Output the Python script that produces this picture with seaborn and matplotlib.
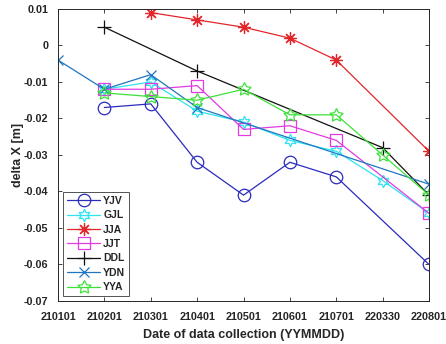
import numpy as np
import pandas as pd
import matplotlib
matplotlib.use("Agg")
import matplotlib.pyplot as plt
import seaborn as sns

dates = ["210101", "210201", "210301", "210401", "210501", "210601", "210701", "220330", "220801"]

yjv = [None, -0.017, -0.016, -0.032, -0.041, -0.032, -0.036, None, -0.060]
gjl = [None, -0.012, -0.010, -0.018, -0.021, -0.026, -0.029, -0.037, -0.046]
jja = [None, None, 0.009, 0.007, 0.005, 0.002, -0.004, None, -0.029]
jjt = [None, -0.012, -0.012, -0.011, -0.023, -0.022, -0.026, None, -0.046]
ddl = [None, 0.005, None, -0.007, None, None, None, -0.028, -0.041]
ydn = [-0.004, -0.012, -0.008, -0.017, None, None, None, None, -0.038]
yya = [None, -0.013, -0.014, -0.015, -0.012, -0.019, -0.019, -0.030, -0.041]

series = [
    ("YJV", yjv, "#2b2bbd", "o", 9),
    ("GJL", gjl, "#2fe3f0", (6, 1, 0), 9),
    ("JJA", jja, "#e3262b", (8, 2, 0), 9),
    ("JJT", jjt, "#e03ce0", "s", 8),
    ("DDL", ddl, "#111111", "+", 10),
    ("YDN", ydn, "#1f77c0", "x", 7),
    ("YYA", yya, "#3ee03a", (5, 1, 0), 10),
]

sns.set_style("ticks")
plt.rcParams["font.family"] = ["Liberation Sans", "DejaVu Sans"]

fig = plt.figure(figsize=(4.46, 3.44), dpi=100)
ax = fig.add_axes([0.130, 0.125, 0.832, 0.849])

for name, vals, color, marker, ms in series:
    df = pd.DataFrame({"x": np.arange(len(dates)), "y": vals}).dropna()
    sns.lineplot(data=df, x="x", y="y", ax=ax, color=color, label=name,
                 marker=marker, markersize=ms, mfc="none", mec=color,
                 mew=0.9, linewidth=0.9, sort=False)

ax.set_xlim(0, len(dates) - 1)
ax.set_ylim(-0.07, 0.01)
ax.set_xticks(np.arange(len(dates)))
ax.set_xticklabels(dates)
yt = np.round(np.arange(-0.07, 0.0101, 0.01), 2)
ax.set_yticks(yt)
ax.set_yticklabels(["0" if v == 0 else f"{v:g}" for v in yt])
ax.tick_params(direction="in", top=True, right=True, length=3, width=0.6,
               labelsize=7.8, colors="#262626")
ax.tick_params(axis="x", pad=8)
ax.tick_params(axis="y", pad=7)
for lab in ax.get_xticklabels() + ax.get_yticklabels():
    lab.set_fontweight("bold")
for sp in ax.spines.values():
    sp.set_visible(True)
    sp.set_color("#262626")
    sp.set_linewidth(0.7)

ax.set_xlabel("Date of data collection (YYMMDD)", fontsize=9, fontweight="bold", labelpad=5)
ax.set_ylabel("delta X [m]", fontsize=9, fontweight="bold", labelpad=0)

leg = ax.legend(loc="lower left", fontsize=7.5, frameon=True, fancybox=False,
                handlelength=3.2, borderpad=0.35, labelspacing=0.42,
                handletextpad=0.3, borderaxespad=0.5)
leg.get_frame().set_edgecolor("#262626")
leg.get_frame().set_linewidth(0.7)
for t in leg.get_texts():
    t.set_fontweight("bold")

fig.savefig("out.png", dpi=100)
